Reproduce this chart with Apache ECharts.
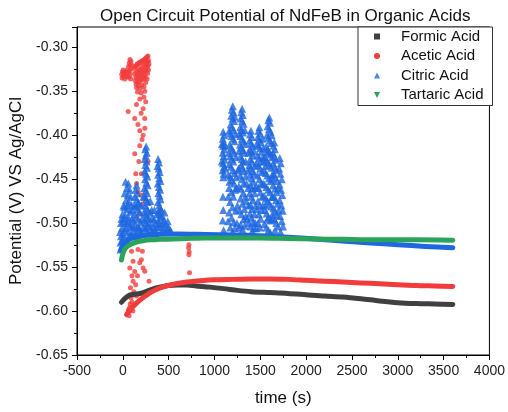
<!DOCTYPE html>
<html>
<head>
<meta charset="utf-8">
<script src="https://cdn.jsdelivr.net/npm/echarts@6/dist/echarts.min.js"></script>
<style>
  html, body { margin: 0; padding: 0; background: #fff; }
  #chart { width: 508px; height: 412px; }
</style>
</head>
<body>
<div id="chart"></div>
<script>
// Open circuit potential traces, [time (s), potential (V vs Ag/AgCl)]
const seriesNames = ['Formic Acid', 'Acetic Acid', 'Citric Acid', 'Tartaric Acid'];

const formicTrace = [
  [-15,-0.590],[20,-0.586],[70,-0.582],[130,-0.581],[190,-0.580],[250,-0.578],[300,-0.576],
  [400,-0.573],[500,-0.571],[600,-0.5705],[700,-0.5705],[800,-0.5715],[950,-0.5728],
  [1100,-0.5745],[1250,-0.5765],[1400,-0.578],[1600,-0.579],[1800,-0.580],[2000,-0.5815],
  [2200,-0.583],[2400,-0.584],[2600,-0.586],[2800,-0.5885],[3000,-0.5905],[3200,-0.5915],
  [3400,-0.592],[3600,-0.5925]
];

const aceticTrace = [
  [40,-0.604],[80,-0.599],[120,-0.594],[170,-0.589],[230,-0.584],[300,-0.579],[380,-0.575],
  [470,-0.5715],[580,-0.569],[700,-0.567],[850,-0.5655],[1000,-0.5645],[1200,-0.564],
  [1400,-0.5635],[1600,-0.5635],[1800,-0.564],[2000,-0.565],[2200,-0.566],[2400,-0.567],
  [2600,-0.568],[2800,-0.569],[3000,-0.570],[3200,-0.571],[3400,-0.5715],[3600,-0.572]
];

const aceticPoints = [
  // first burst near the start
  [-12,-0.331],[-4,-0.328],[-8,-0.335],[4,-0.326],[8,-0.333],[16,-0.330],[20,-0.336],[28,-0.328],
  [36,-0.332],[44,-0.326],[48,-0.334],[56,-0.329],[62,-0.322],[64,-0.334],[70,-0.318],[72,-0.327],
  [78,-0.314],[80,-0.321],[82,-0.331],[88,-0.316],[90,-0.325],[94,-0.320],[86,-0.336],
  // second burst
  [125,-0.324],[135,-0.322],[145,-0.321],[155,-0.319],[165,-0.320],[175,-0.318],[185,-0.317],
  [195,-0.318],[205,-0.316],[215,-0.315],[225,-0.316],[235,-0.314],[245,-0.313],[255,-0.312],
  [265,-0.311],[275,-0.310],[130,-0.330],[140,-0.334],[150,-0.328],[160,-0.332],[170,-0.326],
  [180,-0.330],[190,-0.325],[200,-0.329],[210,-0.323],[220,-0.327],[230,-0.321],[240,-0.326],
  [250,-0.320],[260,-0.318],[270,-0.316],[280,-0.315],[135,-0.338],[145,-0.342],[155,-0.336],
  [165,-0.340],[175,-0.335],[185,-0.339],[195,-0.334],[205,-0.337],[215,-0.332],[225,-0.336],
  [235,-0.331],[245,-0.334],[255,-0.327],[265,-0.323],[275,-0.321],[285,-0.319],[150,-0.346],
  [170,-0.344],[190,-0.347],[210,-0.343],[230,-0.345],[250,-0.340],[270,-0.330],[280,-0.326],
  [160,-0.351],[200,-0.352],[240,-0.350],[265,-0.336],
  // falling points
  [58,-0.373],[149,-0.365],[185,-0.359],[221,-0.370],[130,-0.381],[239,-0.381],[185,-0.395],
  [221,-0.400],[185,-0.412],[130,-0.421],[203,-0.444],[141,-0.444],[275,-0.430],[166,-0.464],
  [230,-0.357],[250,-0.362],[200,-0.375],[165,-0.388],[240,-0.392],[210,-0.405],[175,-0.430],
  [150,-0.455],[200,-0.468],[220,-0.478],[180,-0.490],
  // lower scatter
  [95,-0.532],[112,-0.5435],[76,-0.551],[185,-0.545],[221,-0.551],[239,-0.5547],[286,-0.566],
  [112,-0.566],[83,-0.5736],[149,-0.583],[76,-0.596],[69,-0.6055],[203,-0.5416],[166,-0.530],
  [177,-0.519],[213,-0.532],[100,-0.560],[130,-0.555],[90,-0.585],[120,-0.578],[60,-0.600],
  [100,-0.590],[140,-0.570],[160,-0.560],[110,-0.600],[80,-0.592],[65,-0.598],
  [721,-0.5247],[718,-0.528],[724,-0.533],[721,-0.536],[728,-0.5566]
];

const citricTrace = [
  [-20,-0.531],[0,-0.526],[40,-0.521],[100,-0.517],[200,-0.5145],[350,-0.513],[600,-0.5125],
  [900,-0.513],[1200,-0.5135],[1500,-0.5145],[1800,-0.516],[2100,-0.518],[2400,-0.5205],
  [2700,-0.5225],[3000,-0.5245],[3300,-0.5265],[3600,-0.528]
];

const citricPoints = [
  // early spikes
  [255,-0.413],[245,-0.416],[262,-0.420],[250,-0.423],[240,-0.427],[258,-0.430],[246,-0.434],
  [264,-0.437],[238,-0.441],[252,-0.444],[268,-0.447],[242,-0.450],[256,-0.454],[272,-0.457],
  [236,-0.460],[250,-0.463],[266,-0.466],[240,-0.470],[256,-0.473],[272,-0.476],[244,-0.480],
  [260,-0.483],[276,-0.486],[248,-0.490],[264,-0.493],[238,-0.497],[255,-0.500],[270,-0.503],
  [245,-0.506],[262,-0.509],
  [385,-0.427],[395,-0.431],[380,-0.435],[392,-0.438],[402,-0.442],[386,-0.445],[398,-0.449],
  [410,-0.452],[382,-0.455],[394,-0.459],[406,-0.462],[388,-0.466],[400,-0.469],[412,-0.473],
  [384,-0.476],[396,-0.480],[408,-0.483],[390,-0.487],[402,-0.490],[416,-0.494],[386,-0.497],
  [398,-0.501],[410,-0.504],
  [30,-0.453],[60,-0.455],[45,-0.460],[75,-0.462],[20,-0.466],[55,-0.468],[85,-0.470],
  [35,-0.474],[65,-0.476],[95,-0.479],[15,-0.482],[45,-0.484],[80,-0.487],[25,-0.491],
  [60,-0.493],[100,-0.495],[5,-0.498],[40,-0.500],[75,-0.502],[110,-0.504],[-10,-0.506],
  [20,-0.508],[55,-0.510],[90,-0.512],[-20,-0.515],[10,-0.517],[45,-0.519],[-25,-0.522],
  [5,-0.524],[-15,-0.527],
  [150,-0.457],[140,-0.462],[160,-0.466],[130,-0.470],[152,-0.473],[172,-0.477],[138,-0.481],
  [160,-0.484],[185,-0.487],[128,-0.490],[148,-0.493],[170,-0.496],[195,-0.499],[135,-0.502],
  [158,-0.505],[182,-0.507],[205,-0.510],[120,-0.509],[145,-0.512],[170,-0.514],
  [300,-0.488],[320,-0.494],[290,-0.500],[330,-0.503],[350,-0.507],[310,-0.510],[430,-0.492],
  [450,-0.497],[470,-0.501],[440,-0.505],[480,-0.507],[500,-0.505],[520,-0.508],[460,-0.509],
  [340,-0.496],[360,-0.500],[280,-0.512],
  [-30,-0.510],[-20,-0.500],[-5,-0.490],[0,-0.512],[15,-0.495],[30,-0.505],[30,-0.520],
  [60,-0.498],[70,-0.515],[85,-0.505],[100,-0.485],[105,-0.515],[115,-0.497],[125,-0.480],
  [130,-0.515],[165,-0.478],[175,-0.505],[190,-0.512],[200,-0.480],[210,-0.495],[220,-0.505],
  [225,-0.470],[230,-0.488],[285,-0.495],[295,-0.505],[300,-0.475],[315,-0.485],[325,-0.510],
  [345,-0.485],[355,-0.512],[370,-0.490],[375,-0.505],[420,-0.485],[425,-0.510],[435,-0.500],
  [455,-0.488],[490,-0.498],[510,-0.510],[-15,-0.495],[8,-0.480],[50,-0.480],[-25,-0.530],
  [-10,-0.520],
  // later spikes
  [1095,-0.396],[1105,-0.400],[1090,-0.404],[1102,-0.408],[1094,-0.412],[1106,-0.416],
  [1090,-0.420],[1100,-0.424],[1110,-0.428],[1094,-0.432],[1104,-0.436],[1090,-0.440],
  [1100,-0.444],[1096,-0.448],[1092,-0.470],[1096,-0.485],[1090,-0.497],[1100,-0.508],
  [1082,-0.410],[1114,-0.412],[1080,-0.430],[1116,-0.438],
  [1200,-0.367],[1190,-0.371],[1208,-0.374],[1182,-0.378],[1198,-0.381],[1214,-0.384],
  [1176,-0.388],[1192,-0.391],[1208,-0.394],[1170,-0.398],[1186,-0.401],[1202,-0.404],
  [1218,-0.407],[1166,-0.411],[1182,-0.414],[1198,-0.417],[1214,-0.420],[1170,-0.424],
  [1188,-0.427],[1206,-0.430],[1160,-0.433],[1180,-0.436],[1200,-0.440],[1220,-0.443],
  [1170,-0.447],[1192,-0.451],[1212,-0.455],[1160,-0.460],[1185,-0.465],[1206,-0.470],
  [1170,-0.476],[1196,-0.482],[1160,-0.488],[1186,-0.494],[1210,-0.499],[1172,-0.505],
  [1198,-0.510],
  [1222,-0.379],[1160,-0.395],[1228,-0.399],[1156,-0.420],[1232,-0.425],[1150,-0.445],
  [1236,-0.448],[1225,-0.462],[1150,-0.470],[1232,-0.486],[1148,-0.498],[1224,-0.506],
  [1302,-0.370],[1292,-0.374],[1310,-0.377],[1286,-0.381],[1302,-0.384],[1318,-0.387],
  [1280,-0.391],[1296,-0.394],[1312,-0.397],[1284,-0.401],[1300,-0.404],[1316,-0.407],
  [1278,-0.411],[1294,-0.414],[1310,-0.417],[1326,-0.420],[1282,-0.424],[1298,-0.427],
  [1314,-0.430],[1290,-0.434],[1306,-0.437],[1322,-0.441],[1280,-0.446],[1300,-0.450],
  [1320,-0.455],[1290,-0.461],[1312,-0.466],[1284,-0.472],[1306,-0.478],[1326,-0.484],
  [1294,-0.490],[1316,-0.496],[1286,-0.502],[1306,-0.507],
  [1270,-0.398],[1330,-0.394],[1266,-0.418],[1336,-0.410],[1262,-0.438],[1340,-0.447],
  [1266,-0.458],[1338,-0.470],[1270,-0.485],[1342,-0.492],[1268,-0.505],[1330,-0.503],
  [1398,-0.395],[1388,-0.399],[1408,-0.402],[1382,-0.406],[1400,-0.409],[1416,-0.412],
  [1386,-0.416],[1404,-0.419],[1420,-0.423],[1390,-0.427],[1408,-0.430],[1380,-0.434],
  [1398,-0.437],[1416,-0.441],[1388,-0.445],[1406,-0.449],[1424,-0.453],[1392,-0.457],
  [1412,-0.461],[1384,-0.466],[1402,-0.470],[1420,-0.474],[1392,-0.479],[1410,-0.484],
  [1386,-0.489],[1404,-0.494],[1422,-0.499],[1394,-0.504],[1412,-0.509],
  [1370,-0.420],[1432,-0.418],[1366,-0.440],[1436,-0.444],[1368,-0.460],[1438,-0.466],
  [1370,-0.480],[1436,-0.490],[1372,-0.500],[1434,-0.506],
  [1490,-0.391],[1480,-0.395],[1500,-0.398],[1472,-0.402],[1490,-0.405],[1508,-0.408],
  [1478,-0.412],[1496,-0.415],[1514,-0.419],[1470,-0.423],[1488,-0.426],[1506,-0.430],
  [1478,-0.434],[1498,-0.438],[1516,-0.442],[1470,-0.446],[1490,-0.450],[1510,-0.455],
  [1480,-0.460],[1500,-0.465],[1520,-0.470],[1474,-0.475],[1494,-0.480],[1514,-0.485],
  [1484,-0.490],[1504,-0.495],[1476,-0.500],[1496,-0.505],
  [1460,-0.410],[1524,-0.404],[1456,-0.432],[1528,-0.425],[1458,-0.458],[1460,-0.484],
  [1458,-0.506],
  [1598,-0.380],[1588,-0.383],[1606,-0.386],[1580,-0.390],[1596,-0.393],[1612,-0.396],
  [1572,-0.400],[1588,-0.403],[1604,-0.406],[1620,-0.409],[1564,-0.413],[1580,-0.416],
  [1596,-0.419],[1612,-0.422],[1548,-0.425],[1566,-0.428],[1584,-0.431],[1602,-0.434],
  [1620,-0.437],[1540,-0.440],[1558,-0.443],[1576,-0.446],[1594,-0.449],[1612,-0.452],
  [1546,-0.456],[1566,-0.459],[1586,-0.462],[1606,-0.465],[1540,-0.469],[1560,-0.472],
  [1580,-0.475],[1600,-0.478],[1620,-0.481],[1550,-0.485],[1570,-0.489],[1590,-0.493],
  [1612,-0.497],[1544,-0.501],[1566,-0.505],[1588,-0.508],[1610,-0.511],[1530,-0.415],
  [1536,-0.430],[1530,-0.455],[1528,-0.480],
  [1625,-0.400],[1628,-0.425],[1630,-0.445],[1632,-0.470],[1630,-0.495],[1556,-0.435],
  [1574,-0.420],[1556,-0.480],[1578,-0.496],
  [1652,-0.408],[1642,-0.412],[1660,-0.416],[1636,-0.420],[1654,-0.424],[1670,-0.428],
  [1640,-0.432],[1658,-0.436],[1676,-0.440],[1646,-0.444],[1664,-0.448],[1682,-0.452],
  [1640,-0.457],[1660,-0.461],[1680,-0.465],[1650,-0.470],[1670,-0.474],[1690,-0.478],
  [1644,-0.483],[1664,-0.487],[1684,-0.491],[1654,-0.496],[1674,-0.500],[1694,-0.504],
  [1660,-0.508],
  [1630,-0.450],[1696,-0.460],[1700,-0.485],[1632,-0.490],[1628,-0.470],
  [1712,-0.426],[1724,-0.432],[1706,-0.438],[1720,-0.444],[1734,-0.450],[1710,-0.456],
  [1726,-0.462],[1740,-0.468],[1712,-0.474],[1730,-0.480],[1744,-0.486],[1716,-0.492],
  [1734,-0.498],[1748,-0.504],[1722,-0.510],
  [1163,-0.453],[1240,-0.460],[1250,-0.480],[1245,-0.500],[1350,-0.455],[1345,-0.475],
  [1355,-0.495],[1440,-0.460],[1450,-0.480],[1445,-0.500],[1260,-0.440],[1340,-0.430],
  [1440,-0.435]
];

const tartaricTrace = [
  [-15,-0.542],[0,-0.535],[20,-0.530],[50,-0.5265],[100,-0.5235],[150,-0.5215],[220,-0.520],
  [300,-0.519],[400,-0.5185],[550,-0.518],[700,-0.5175],[900,-0.517],[1200,-0.517],
  [1500,-0.517],[1800,-0.5175],[2100,-0.518],[2400,-0.5185],[2800,-0.519],[3200,-0.519],
  [3600,-0.5195]
];

const colors = {
  formic: '#404040',
  acetic: '#f23c3c',
  citric: '#1d67e0',
  tartaric: '#2aa35b'
};

const font = 'Arial, "Liberation Sans", Helvetica, sans-serif';

const chart = echarts.init(document.getElementById('chart'), null, { renderer: 'canvas' });

function traceSeries(name, data, color, width) {
  return {
    name: name,
    type: 'line',
    data: data,
    smooth: 0.3,
    showSymbol: false,
    symbol: 'none',
    color: color,
    lineStyle: { color: color, width: width, cap: 'round', join: 'round' },
    emphasis: { disabled: true },
    silent: true
  };
}

function pointSeries(name, data, color, symbol, size) {
  return {
    name: name,
    type: 'scatter',
    data: data,
    symbol: symbol,
    symbolSize: size,
    color: color,
    itemStyle: { color: color },
    emphasis: { disabled: true },
    silent: true
  };
}

chart.setOption({
  animation: false,
  backgroundColor: '#fff',
  title: {
    text: 'Open Circuit Potential of NdFeB in Organic Acids',
    left: 95,
    top: 3,
    textStyle: { fontFamily: font, fontSize: 17, fontWeight: 'normal', color: '#111' }
  },
  legend: {
    orient: 'vertical',
    left: 358,
    top: 27,
    padding: [2, 9, 3, 16],
    itemGap: 4.5,
    itemWidth: 6,
    itemHeight: 6,
    borderColor: '#333',
    borderWidth: 1,
    backgroundColor: '#fff',
    selectedMode: false,
    itemStyle: { borderWidth: 0 },
    textStyle: { fontFamily: font, fontSize: 15, color: '#111', padding: [0, 0, 0, 16] },
    data: [
      { name: seriesNames[0], icon: 'rect' },
      { name: seriesNames[1], icon: 'circle' },
      { name: seriesNames[2], icon: 'triangle' },
      { name: seriesNames[3], icon: 'path://M0,0 L10,0 L5,10 Z' }
    ]
  },
  grid: {
    left: 77, right: 17, top: 27, bottom: 53,
    show: true, borderColor: '#000', borderWidth: 1, backgroundColor: 'transparent'
  },
  xAxis: {
    type: 'value',
    min: -500, max: 4000, interval: 500,
    name: 'time (s)',
    nameLocation: 'middle',
    nameGap: 35,
    nameTextStyle: { fontFamily: font, fontSize: 17, color: '#111' },
    axisLine: { onZero: false, lineStyle: { color: '#000', width: 1 } },
    axisTick: { show: true, inside: false, length: 5, lineStyle: { color: '#000' } },
    minorTick: { show: true, splitNumber: 2, length: 3, lineStyle: { color: '#000' } },
    splitLine: { show: false },
    axisLabel: {
      fontFamily: font, fontSize: 14, color: '#222', margin: 9,
      formatter: function (v) { return String(v); }
    }
  },
  yAxis: {
    type: 'value',
    min: -0.65, max: -0.277, interval: 0.05,
    name: 'Potential (V) VS Ag/AgCl',
    nameLocation: 'middle',
    nameGap: 44,
    nameTextStyle: { fontFamily: font, fontSize: 17, color: '#111' },
    axisLine: { onZero: false, lineStyle: { color: '#000', width: 1 } },
    axisTick: { show: true, inside: false, length: 5, lineStyle: { color: '#000' } },
    minorTick: { show: true, splitNumber: 2, length: 3, lineStyle: { color: '#000' } },
    splitLine: { show: false },
    axisLabel: {
      fontFamily: font, fontSize: 14, color: '#222', margin: 9,
      showMaxLabel: false,
      formatter: function (v) { return v.toFixed(2); }
    }
  },
  series: [
    traceSeries(seriesNames[0], formicTrace, colors.formic, 5),
    traceSeries(seriesNames[1], aceticTrace, colors.acetic, 5),
    pointSeries(seriesNames[1], aceticPoints, colors.acetic, 'circle', 5),
    pointSeries(seriesNames[2], citricPoints, colors.citric, 'triangle', 8),
    traceSeries(seriesNames[2], citricTrace, colors.citric, 5),
    traceSeries(seriesNames[3], tartaricTrace, colors.tartaric, 5)
  ]
});
</script>
</body>
</html>
